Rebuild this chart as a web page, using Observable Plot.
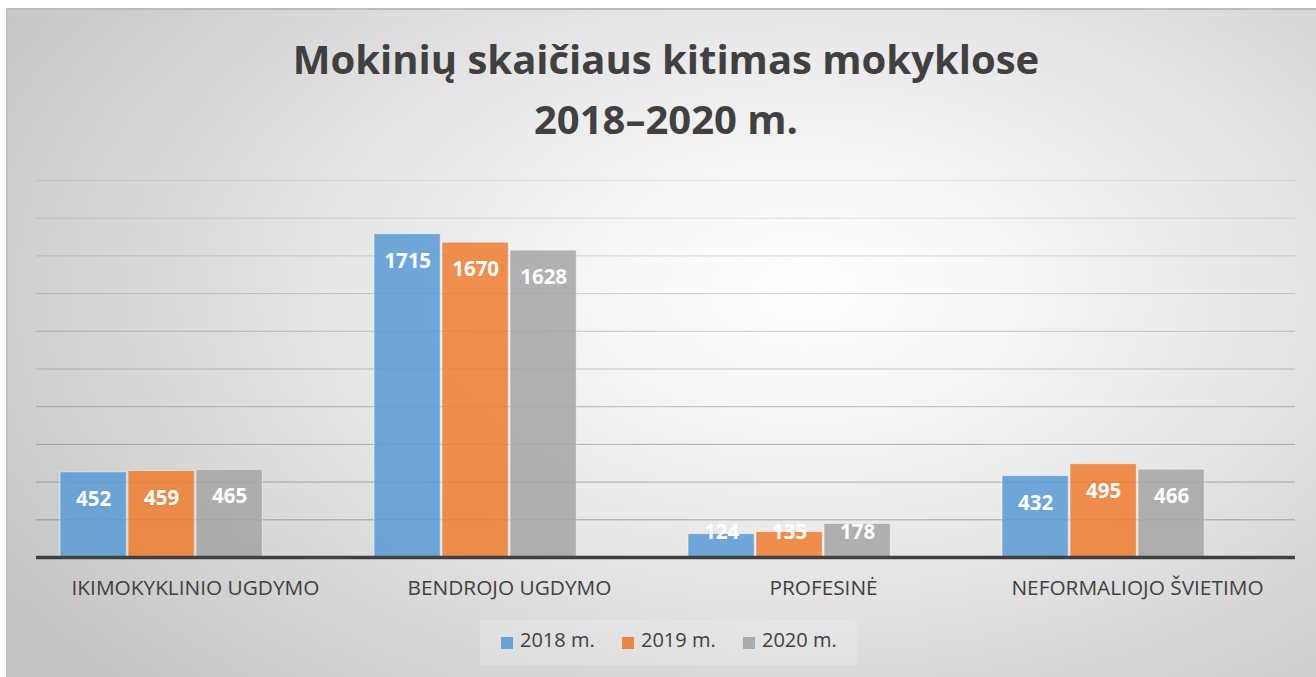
<!DOCTYPE html>
<html>
<head>
<meta charset="utf-8">
<script src="https://cdn.jsdelivr.net/npm/d3@7"></script>
<script src="https://cdn.jsdelivr.net/npm/@observablehq/plot@0.6"></script>
<style>
  html, body { margin: 0; padding: 0; background: #ffffff; }
  #wrap { position: relative; width: 1316px; height: 677px; overflow: hidden; background: #ffffff; }
  #panel {
    position: absolute; left: 6px; top: 8px; width: 1310px; height: 669px;
    border-top: 2px solid #bcbcbc; border-left: 2px solid #c4c4c4; box-sizing: border-box;
    background: radial-gradient(ellipse 72% 85% at 61% 42%, #ffffff 0%, #f6f6f6 22%, #e6e6e6 50%, #d2d2d2 80%, #c6c6c6 100%);
  }
  #title {
    position: absolute; left: 0; width: 1332px; top: 29px; text-align: center;
    font-family: "Open Sans", sans-serif; font-weight: 700; font-size: 40px; line-height: 60px; color: #404040;
  }
  #chart { position: absolute; left: 0; top: 0; }
  #legendbg { position: absolute; left: 480px; top: 620px; width: 377px; height: 45px; background: rgba(255,255,255,0.18); }
  .sw { position: absolute; top: 637px; width: 12px; height: 12px; }
  .lt { position: absolute; top: 626px; font-family: "Open Sans", sans-serif; font-size: 20px; line-height: 28px; color: #404040; white-space: nowrap; }
</style>
</head>
<body>
<div id="wrap">
  <div id="panel"></div>
  <div id="title">Mokinių skaičiaus kitimas mokyklose<br>2018–2020 m.</div>
  <div id="chart"></div>
  <div id="legendbg"></div>
</div>
<script>
const categories = ["IKIMOKYKLINIO UGDYMO", "BENDROJO UGDYMO", "PROFESINĖ", "NEFORMALIOJO ŠVIETIMO"];
const years = ["2018 m.", "2019 m.", "2020 m."];
const values2018 = [452, 1715, 124, 432];
const values2019 = [459, 1670, 135, 495];
const values2020 = [465, 1628, 178, 466];
const seriesColors = ["#5b9bd5", "#ed7d31", "#a5a5a5"];
const gridTicks = [200, 400, 600, 800, 1000, 1200, 1400, 1600, 1800, 2000];

const seriesValues = [values2018, values2019, values2020];
const rows = [];
years.forEach((yr, s) => categories.forEach((c, i) => rows.push({category: c, year: yr, value: seriesValues[s][i], s})));

// layout of bars inside each category band (band step ~314.75px)
const insetsL = [22, 90, 158];
const barW = 67;
const step = (1295 - 36) / categories.length;
const font = "'Open Sans', sans-serif";

const marks = [
  Plot.ruleY(gridTicks, {y: d => d, stroke: "#6e6e6e", strokeOpacity: d => 0.62 - (d / 2000) * 0.45, strokeWidth: 1})
];
years.forEach((yr, s) => {
  const data = rows.filter(r => r.s === s);
  marks.push(Plot.barY(data, {
    x: "category", y: "value",
    fill: seriesColors[s], fillOpacity: 0.86,
    stroke: "#ffffff", strokeOpacity: 0.5, strokeWidth: 1,
    insetLeft: insetsL[s], insetRight: step - insetsL[s] - barW
  }));
});
marks.push(Plot.ruleY([0], {stroke: "#404040", strokeWidth: 3.5}));
years.forEach((yr, s) => {
  const data = rows.filter(r => r.s === s);
  const dx = insetsL[s] + barW / 2 - step / 2;
  marks.push(Plot.text(data.filter(d => d.value >= 280), {
    x: "category", y: "value", text: d => String(d.value), dx, dy: 27,
    fill: "#ffffff", fontWeight: "bold", fontSize: 20.5, fontFamily: font, lineAnchor: "middle"
  }));
  marks.push(Plot.text(data.filter(d => d.value < 280), {
    x: "category", y: () => 0, text: d => String(d.value), dx, dy: -25,
    fill: "#ffffff", fontWeight: "bold", fontSize: 20.5, fontFamily: font, lineAnchor: "middle"
  }));
});
marks.push(Plot.text(categories, {
  x: d => d, frameAnchor: "bottom", dy: 31, text: d => d,
  fill: "#404040", fontSize: 20.8, fontFamily: font, lineAnchor: "middle"
}));

const chart = Plot.plot({
  width: 1316, height: 677,
  marginTop: 180, marginBottom: 120, marginLeft: 36, marginRight: 21,
  x: {domain: categories, paddingInner: 0, paddingOuter: 0, axis: null},
  y: {domain: [0, 2000], axis: null},
  style: {background: "transparent", fontFamily: font},
  marks
});
document.getElementById("chart").appendChild(chart);

// legend
const wrap = document.getElementById("wrap");
const swX = [501, 622, 743];
years.forEach((yr, s) => {
  const sw = document.createElement("div");
  sw.className = "sw";
  sw.style.left = swX[s] + "px";
  sw.style.background = seriesColors[s];
  sw.style.opacity = 0.9;
  wrap.appendChild(sw);
  const t = document.createElement("div");
  t.className = "lt";
  t.style.left = (swX[s] + 19) + "px";
  t.textContent = yr;
  wrap.appendChild(t);
});
</script>
</body>
</html>
